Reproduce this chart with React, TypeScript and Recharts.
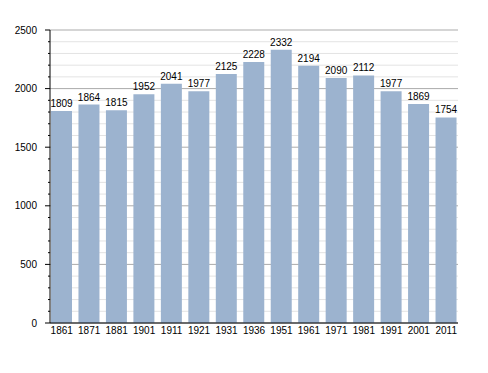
import React from 'react';
import { BarChart, Bar, XAxis, YAxis, CartesianGrid, LabelList } from 'recharts';

const years = ['1861', '1871', '1881', '1901', '1911', '1921', '1931', '1936', '1951', '1961', '1971', '1981', '1991', '2001', '2011'];
const population = [1809, 1864, 1815, 1952, 2041, 1977, 2125, 2228, 2332, 2194, 2090, 2112, 1977, 1869, 1754];
const majorTicks = [0, 500, 1000, 1500, 2000, 2500];
const minorTicks = [100, 200, 300, 400, 600, 700, 800, 900, 1100, 1200, 1300, 1400, 1600, 1700, 1800, 1900, 2100, 2200, 2300, 2400];
const allTicks = [...majorTicks, ...minorTicks].sort((a, b) => a - b);

const data = years.map((y, i) => ({ year: y, pop: population[i] }));

const FONT = '"Liberation Sans", Arial, sans-serif';

const YTick = (props: any) => {
  const { y, payload } = props;
  const v = payload.value;
  const major = v % 500 === 0;
  const ax = 50;
  return (
    <g>
      <line x1={major ? ax - 5 : ax - 2} x2={ax} y1={y} y2={y} stroke="#000" strokeWidth={1} />
      {major && (
        <text x={37} y={y} dy={3.5} textAnchor="end" fontSize={10} fontFamily={FONT} fill="#000">
          {v}
        </text>
      )}
    </g>
  );
};

export default function App() {
  return (
    <div style={{ position: 'absolute', left: 0, top: 0, width: 488, height: 373, background: '#fff' }}>
      <BarChart
        width={488}
        height={373}
        data={data}
        margin={{ top: 30, right: 30, bottom: 30, left: 0 }}
        barCategoryGap={3}
      >
        <CartesianGrid vertical={false} horizontalValues={minorTicks} stroke="#e3e3e3" strokeWidth={1} />
        <CartesianGrid vertical={false} horizontalValues={majorTicks} stroke="#ababab" strokeWidth={1} />
        <XAxis
          dataKey="year"
          interval={0}
          height={20}
          padding={{ left: -2, right: -2 }}
          axisLine={{ stroke: '#000', strokeWidth: 1 }}
          tickLine={false}
          tickSize={0}
          tickMargin={4}
          tick={{ fontSize: 10, fontFamily: FONT, fill: '#000' }}
        />
        <YAxis
          width={50}
          domain={[0, 2500]}
          ticks={allTicks}
          interval={0}
          allowDataOverflow
          axisLine={{ stroke: '#000', strokeWidth: 1 }}
          tickLine={false}
          tick={<YTick />}
        />
        <Bar dataKey="pop" fill="#9cb3cf" isAnimationActive={false}>
          <LabelList dataKey="pop" position="top" offset={4} fontSize={10} fontFamily={FONT} fill="#000" />
        </Bar>
      </BarChart>
    </div>
  );
}
